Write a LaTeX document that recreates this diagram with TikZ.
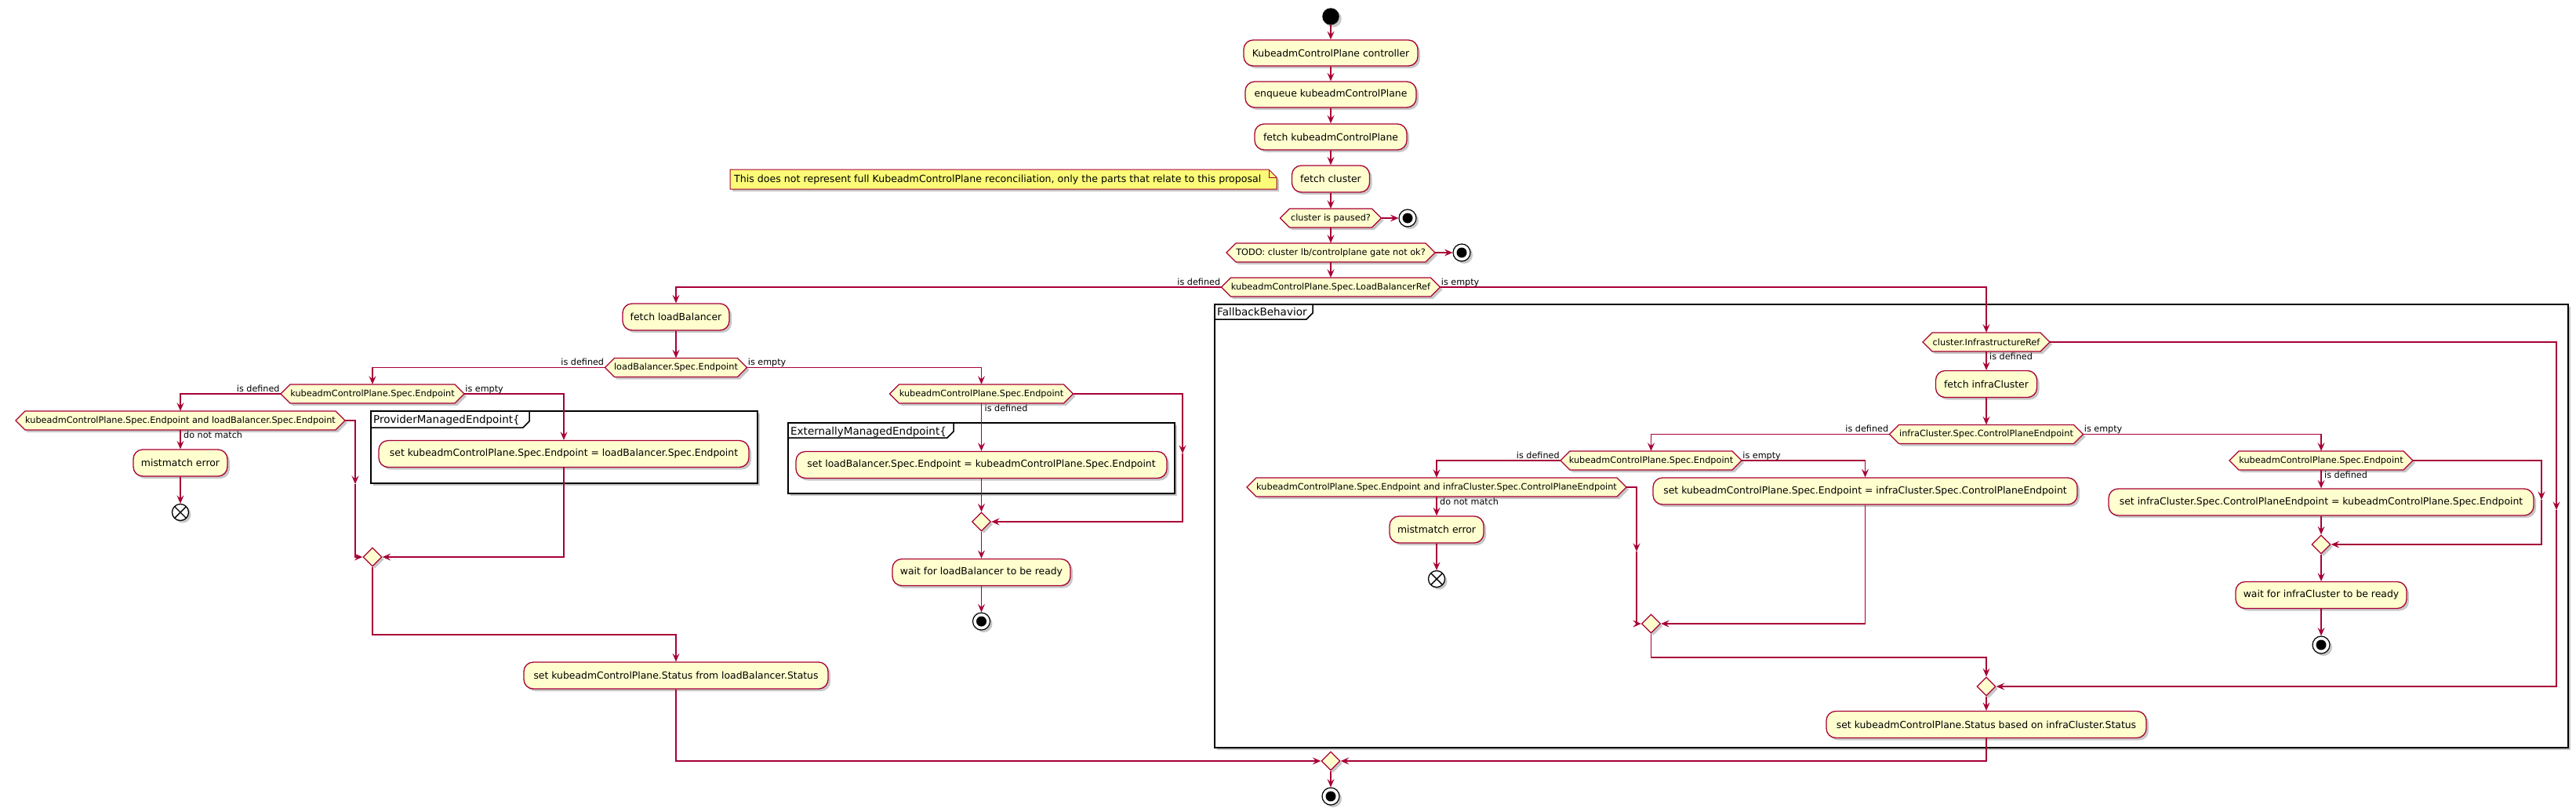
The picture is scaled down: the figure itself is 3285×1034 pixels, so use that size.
\documentclass[tikz,border=0pt]{standalone}
\usepackage{fontspec}
\setmainfont{DejaVu Sans}
\usetikzlibrary{arrows.meta,shapes.geometric,shadows,calc}
\definecolor{pline}{HTML}{A80036}
\definecolor{pfill}{HTML}{FEFECE}
\definecolor{pnote}{HTML}{FBFB77}
\tikzset{
  shad/.style={drop shadow={shadow xshift=3pt,shadow yshift=-3pt,fill=black,opacity=0.22}},
  act/.style={rectangle, rounded corners=12pt, draw=pline, fill=pfill, line width=1.3pt, inner sep=0pt, font=\fontsize{12.4}{14}\selectfont, shad},
  hexbg/.style={draw=pline, fill=pfill, line width=1.3pt, shad},
  hextxt/.style={rectangle, inner sep=0pt, font=\fontsize{11.3}{13}\selectfont},
  merge/.style={diamond, draw=pline, fill=pfill, line width=1.3pt, inner sep=0pt, minimum width=24pt, minimum height=24pt, shad},
  conn/.style={draw=pline, line width=1.2pt},
  arr/.style={conn, -{Stealth[length=10.5pt,width=9pt,inset=4pt]}},
  lbl/.style={font=\fontsize{11.2}{13}\selectfont, inner sep=0pt},
  startc/.style={circle, fill=black, minimum size=21.5pt, inner sep=0pt, shad},
  stopc/.style={circle, draw=black, fill=white, line width=1.2pt, minimum size=22pt, inner sep=0pt, shad,
    path picture={\fill[black] (path picture bounding box.center) circle (6.5pt);}},
  endc/.style={circle, draw=black, fill=white, line width=1.3pt, minimum size=21pt, inner sep=0pt, shad,
    path picture={\draw[black,line width=1.4pt] ([shift={(-7.4pt,-7.4pt)}]path picture bounding box.center) -- ([shift={(7.4pt,7.4pt)}]path picture bounding box.center)
      ([shift={(-7.4pt,7.4pt)}]path picture bounding box.center) -- ([shift={(7.4pt,-7.4pt)}]path picture bounding box.center);}},
  frame/.style={draw=black, line width=1.8pt, fill=white, shad},
  tabline/.style={draw=black, line width=1.5pt},
  ptitle/.style={anchor=base west, inner sep=0pt, font=\fontsize{13.5}{15}\selectfont},
  notebox/.style={draw=pline, fill=pnote, line width=1pt, shad},
}
\newcommand\hexnode[6]{%
  \path[hexbg] ({#2-#4/2},#3) -- ({#2-#4/2+#5/2},{#3-#5/2}) -- ({#2+#4/2-#5/2},{#3-#5/2}) -- ({#2+#4/2},#3) -- ({#2+#4/2-#5/2},{#3+#5/2}) -- ({#2-#4/2+#5/2},{#3+#5/2}) -- cycle;
  \node[hextxt, minimum width=#4pt, minimum height=#5pt] (#1) at (#2,#3) {#6};
}
\begin{document}
\begin{tikzpicture}[x=1pt,y=-1pt]
\useasboundingbox (0,0) rectangle (3285,1034);
\fill[white] (0,0) rectangle (3285,1034);

% partitions
\path[frame] (1549,388) rectangle (3275,953);
\draw[tabline] (1549,407) -- (1666,407) -- (1674,399) -- (1674,388);
\node[ptitle] (fbt) at (1552,402) {FallbackBehavior};
\path[frame] (473,524) rectangle (966,616);
\draw[tabline] (473,545) -- (667,545) -- (675,537) -- (675,524);
\node[ptitle] (pmt) at (476,539) {ProviderManagedEndpoint\{};
\path[frame] (1005,539) rectangle (1498,629);
\draw[tabline] (1005,558) -- (1208,558) -- (1216,550) -- (1216,539);
\node[ptitle] (emt) at (1008,554) {ExternallyManagedEndpoint\{};

% note
\path[notebox] (931,216) -- (1618,216) -- (1628,226) -- (1628,241) -- (931,241) -- cycle;
\draw[pline, line width=1pt] (1618,216) -- (1618,226) -- (1628,226);
\node[anchor=base west, inner sep=0pt, font=\fontsize{12.6}{14}\selectfont] (note) at (936,232.5) {This does not represent full KubeadmControlPlane reconciliation, only the parts that relate to this proposal};

% main spine
\node[startc] (start) at (1697,21) {};
\node[act, minimum width=222pt, minimum height=33pt] (A1) at (1697,67.5) {KubeadmControlPlane controller};
\node[act, minimum width=218pt, minimum height=33pt] (A2) at (1697,120.5) {enqueue kubeadmControlPlane};
\node[act, minimum width=194pt, minimum height=33pt] (A3) at (1697,174.5) {fetch kubeadmControlPlane};
\node[act, minimum width=99pt, minimum height=34pt] (A4) at (1697,228) {fetch cluster};
\hexnode{D1}{1697}{278}{129}{24}{cluster is paused?}
\node[stopc] (stop1) at (1795,278) {};
\hexnode{D2}{1697}{322}{266}{24}{TODO: cluster lb/controlplane gate not ok?}
\node[stopc] (stop2) at (1864,322) {};
\hexnode{D3}{1697}{366}{279}{24}{kubeadmControlPlane.Spec.LoadBalancerRef}

% loadBalancer side
\node[act, minimum width=136pt, minimum height=34pt] (FLB) at (862,404) {fetch loadBalancer};
\hexnode{D4}{862}{468.5}{181}{24}{loadBalancer.Spec.Endpoint}
\hexnode{D5}{475}{502}{234}{24}{kubeadmControlPlane.Spec.Endpoint}
\hexnode{D6}{230}{536}{420}{24}{kubeadmControlPlane.Spec.Endpoint and loadBalancer.Spec.Endpoint}
\node[act, minimum width=120pt, minimum height=34pt] (ME1) at (230,590) {mistmatch error};
\node[endc] (end1) at (230,653) {};
\node[merge] (M1) at (475,710) {};
\node[act, minimum width=472pt, minimum height=34pt] (S1) at (719,578.5) {set kubeadmControlPlane.Spec.Endpoint = loadBalancer.Spec.Endpoint};
\node[act, minimum width=388pt, minimum height=34pt] (S2) at (862,861) {set kubeadmControlPlane.Status from loadBalancer.Status};
\hexnode{D7}{1251.5}{502}{234}{24}{kubeadmControlPlane.Spec.Endpoint}
\node[act, minimum width=473pt, minimum height=34pt] (S3) at (1251.5,592.5) {set loadBalancer.Spec.Endpoint = kubeadmControlPlane.Spec.Endpoint};
\node[merge] (M2) at (1251.5,665) {};
\node[act, minimum width=227pt, minimum height=34pt] (W1) at (1251.5,729.5) {wait for loadBalancer to be ready};
\node[stopc] (stop3) at (1251.5,792) {};

% fallback side
\hexnode{D8}{2533}{436}{162}{24}{cluster.InfrastructureRef}
\node[act, minimum width=129pt, minimum height=34pt] (FIC) at (2533,489.5) {fetch infraCluster};
\hexnode{D9}{2533}{553.5}{247}{24}{infraCluster.Spec.ControlPlaneEndpoint}
\hexnode{D10}{2105.5}{587}{231}{24}{kubeadmControlPlane.Spec.Endpoint}
\hexnode{D11}{1832}{621}{484}{24}{kubeadmControlPlane.Spec.Endpoint and infraCluster.Spec.ControlPlaneEndpoint}
\node[act, minimum width=120pt, minimum height=34pt] (ME2) at (1832,675) {mistmatch error};
\node[endc] (end2) at (1832,738) {};
\node[merge] (M3) at (2105.5,795) {};
\node[act, minimum width=541pt, minimum height=34pt] (S4) at (2378.5,626) {set kubeadmControlPlane.Spec.Endpoint = infraCluster.Spec.ControlPlaneEndpoint};
\node[merge] (M4) at (2533,875) {};
\hexnode{D12}{2960}{587}{234}{24}{kubeadmControlPlane.Spec.Endpoint}
\node[act, minimum width=542pt, minimum height=34pt] (S5) at (2960,640) {set infraCluster.Spec.ControlPlaneEndpoint = kubeadmControlPlane.Spec.Endpoint};
\node[merge] (M5) at (2960,694) {};
\node[act, minimum width=218pt, minimum height=34pt] (W2) at (2960,758.5) {wait for infraCluster to be ready};
\node[stopc] (stop4) at (2960,822) {};
\node[act, minimum width=408pt, minimum height=34pt] (S6) at (2533,923.5) {set kubeadmControlPlane.Status based on infraCluster.Status};
\node[merge] (MF) at (1697,970) {};
\node[stopc] (stop5) at (1697,1015) {};

% helper coordinates
\coordinate (j1) at (453,617);
\coordinate (j2) at (1508,578);
\coordinate (j3) at (2087,703);
\coordinate (j4) at (3260,650);
\coordinate (j5) at (3241,637);
\coordinate (k1) at (475,809);
\coordinate (k2) at (2105.5,838);

% connectors: spine
\draw[arr] (start.south) -- (A1.north);
\draw[arr] (A1.south) -- (A2.north);
\draw[arr] (A2.south) -- (A3.north);
\draw[arr] (A3.south) -- (A4.north);
\draw[arr] (A4.south) -- (D1.north);
\draw[arr] (D1.east) -- (stop1.west);
\draw[arr] (D1.south) -- (D2.north);
\draw[arr] (D2.east) -- (stop2.west);
\draw[arr] (D2.south) -- (D3.north);
\draw[arr] (D3.west) -| (FLB.north);
\draw[arr] (D3.east) -| (D8.north);
% loadBalancer side
\draw[arr] (FLB.south) -- (D4.north);
\draw[arr] (D4.west) -| (D5.north);
\draw[arr] (D4.east) -| (D7.north);
\draw[arr] (D5.west) -| (D6.north);
\draw[arr] (D5.east) -| (S1.north);
\draw[arr] (D6.south) -- (ME1.north);
\draw[arr] (ME1.south) -- (end1.north);
\draw[arr] (D6.east) -| (j1);
\draw[arr] (j1) |- (M1.west);
\draw[arr] (S1.south) |- (M1.east);
\draw[arr] (M1.south) -- (k1) -| (S2.north);
\draw[arr] (S2.south) |- (MF.west);
\draw[arr] (D7.south) -- (S3.north);
\draw[arr] (S3.south) -- (M2.north);
\draw[arr] (D7.east) -| (j2);
\draw[arr] (j2) |- (M2.east);
\draw[arr] (M2.south) -- (W1.north);
\draw[arr] (W1.south) -- (stop3.north);
% fallback side
\draw[arr] (D8.south) -- (FIC.north);
\draw[arr] (FIC.south) -- (D9.north);
\draw[arr] (D9.west) -| (D10.north);
\draw[arr] (D9.east) -| (D12.north);
\draw[arr] (D10.west) -| (D11.north);
\draw[arr] (D10.east) -| (S4.north);
\draw[arr] (D11.south) -- (ME2.north);
\draw[arr] (ME2.south) -- (end2.north);
\draw[arr] (D11.east) -| (j3);
\draw[arr] (j3) |- (M3.west);
\draw[arr] (S4.south) |- (M3.east);
\draw[arr] (M3.south) -- (k2) -| (M4.north);
\draw[arr] (D8.east) -| (j4);
\draw[arr] (j4) |- (M4.east);
\draw[arr] (D12.south) -- (S5.north);
\draw[arr] (S5.south) -- (M5.north);
\draw[arr] (D12.east) -| (j5);
\draw[arr] (j5) |- (M5.east);
\draw[arr] (M5.south) -- (W2.north);
\draw[arr] (W2.south) -- (stop4.north);
\draw[arr] (M4.south) -- (S6.north);
\draw[arr] (S6.south) |- (MF.east);
\draw[arr] (MF.south) -- (stop5.north);

% labels
\node[lbl, anchor=base east] (l1) at ($(D3.west)+(-1,-3)$) {is defined};
\node[lbl, anchor=base west] (l2) at ($(D3.east)+(1,-3)$) {is empty};
\node[lbl, anchor=base east] (l3) at ($(D4.west)+(-1,-3)$) {is defined};
\node[lbl, anchor=base west] (l4) at ($(D4.east)+(1,-3)$) {is empty};
\node[lbl, anchor=base east] (l5) at ($(D5.west)+(-1,-3)$) {is defined};
\node[lbl, anchor=base west] (l6) at ($(D5.east)+(1,-3)$) {is empty};
\node[lbl, anchor=base west] (l7) at ($(D6.south)+(4,10.5)$) {do not match};
\node[lbl, anchor=base west] (l8) at ($(D7.south)+(4,10.5)$) {is defined};
\node[lbl, anchor=base west] (l9) at ($(D8.south)+(4,10.5)$) {is defined};
\node[lbl, anchor=base east] (l10) at ($(D9.west)+(-1,-3)$) {is defined};
\node[lbl, anchor=base west] (l11) at ($(D9.east)+(1,-3)$) {is empty};
\node[lbl, anchor=base east] (l12) at ($(D10.west)+(-1,-3)$) {is defined};
\node[lbl, anchor=base west] (l13) at ($(D10.east)+(1,-3)$) {is empty};
\node[lbl, anchor=base west] (l14) at ($(D11.south)+(4,10.5)$) {do not match};
\node[lbl, anchor=base west] (l15) at ($(D12.south)+(4,10.5)$) {is defined};
\end{tikzpicture}
\end{document}
